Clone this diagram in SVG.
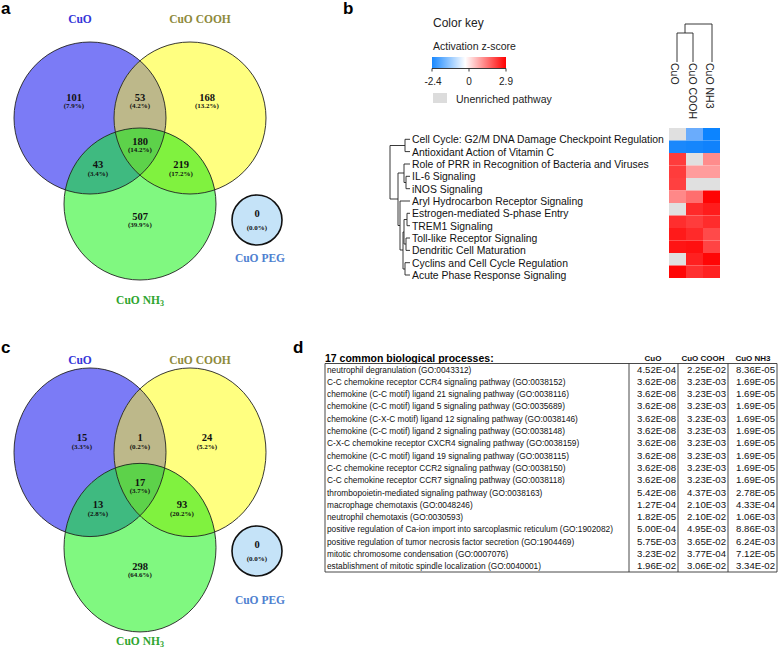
<svg xmlns="http://www.w3.org/2000/svg" width="778" height="648" viewBox="0 0 778 648">
<style>
.pl{font-family:"Liberation Sans",Arial,sans-serif;font-weight:bold;font-size:17px;fill:#000}
.vn{font-family:"Liberation Serif","Times New Roman",serif;font-weight:bold;font-size:10.5px;fill:#111;text-anchor:middle}
.vp{font-family:"Liberation Serif","Times New Roman",serif;font-weight:bold;font-size:7px;fill:#111;text-anchor:middle}
.vl{font-family:"Liberation Serif","Times New Roman",serif;font-weight:bold;font-size:11.5px;text-anchor:middle}
.ol{fill:none;stroke:#222;stroke-width:0.9;vector-effect:non-scaling-stroke}
.bt{font-family:"Liberation Sans",Arial,sans-serif;font-size:10.5px;fill:#222}
.bk{font-family:"Liberation Sans",Arial,sans-serif;font-size:12px;fill:#222}
.bn{font-family:"Liberation Sans",Arial,sans-serif;font-size:10px;fill:#222;text-anchor:middle}
.rl{font-family:"Liberation Sans",Arial,sans-serif;font-size:10.4px;fill:#111}
.dg{fill:none;stroke:#222;stroke-width:0.9}
.tt{font-family:"Liberation Sans",Arial,sans-serif;font-weight:bold;font-size:10.5px;fill:#000}
.tr{font-family:"Liberation Sans",Arial,sans-serif;font-size:8.3px;fill:#111}
.tv{font-family:"Liberation Sans",Arial,sans-serif;font-size:9.6px;fill:#111;text-anchor:end}
.th{font-family:"Liberation Sans",Arial,sans-serif;font-size:8px;font-weight:bold;fill:#111;text-anchor:middle}
.tl{stroke:#333;stroke-width:0.9;fill:none}
</style>
<defs>
<clipPath id="cA" clipPathUnits="userSpaceOnUse"><circle cx="90" cy="118" r="76"/></clipPath>
<clipPath id="cB" clipPathUnits="userSpaceOnUse"><circle cx="190" cy="118" r="76"/></clipPath>
<linearGradient id="gk" x1="0" x2="1" y1="0" y2="0">
<stop offset="0" stop-color="#1888ff"/>
<stop offset="0.45" stop-color="#ffffff"/>
<stop offset="1" stop-color="#ff0000"/>
</linearGradient>
<g id="venn">
<circle cx="90" cy="118" r="76" fill="#7b7bf6"/>
<circle cx="190" cy="118" r="76" fill="#ffff80"/>
<circle cx="140" cy="204" r="76" fill="#80f880"/>
<circle cx="190" cy="118" r="76" fill="#bdb88a" clip-path="url(#cA)"/>
<circle cx="140" cy="204" r="76" fill="#3fba80" clip-path="url(#cA)"/>
<circle cx="140" cy="204" r="76" fill="#80f23f" clip-path="url(#cB)"/>
<g clip-path="url(#cA)"><circle cx="140" cy="204" r="76" fill="#5dd24a" clip-path="url(#cB)"/></g>
<circle class="ol" cx="90" cy="118" r="76"/>
<circle class="ol" cx="190" cy="118" r="76"/>
<circle class="ol" cx="140" cy="204" r="76"/>
</g>
</defs>

<g id="panel-a">
<text class="pl" x="1" y="14">a</text>
<use href="#venn"/>
<circle cx="257" cy="220" r="25" fill="#c5e3f8" stroke="#111" stroke-width="1.6"/>
<text class="vl" x="80" y="23" fill="#3535d8">CuO</text>
<text class="vl" x="200" y="23" fill="#8e8a3c">CuO COOH</text>
<text class="vl" x="140" y="304" fill="#2ea52e">CuO NH<tspan font-size="8" dy="2">3</tspan></text>
<text class="vl" x="260" y="262" fill="#4f7fd0">CuO PEG</text>
<text class="vn" x="74" y="101">101</text><text class="vp" x="74" y="108">(7.9%)</text>
<text class="vn" x="140" y="101">53</text><text class="vp" x="140" y="108">(4.2%)</text>
<text class="vn" x="207" y="101">168</text><text class="vp" x="207" y="108">(13.2%)</text>
<text class="vn" x="140" y="145">180</text><text class="vp" x="140" y="152">(14.2%)</text>
<text class="vn" x="98" y="168">43</text><text class="vp" x="98" y="176">(3.4%)</text>
<text class="vn" x="181" y="168">219</text><text class="vp" x="181" y="176">(17.2%)</text>
<text class="vn" x="140" y="220">507</text><text class="vp" x="140" y="227">(39.9%)</text>
<text class="vn" x="257" y="217">0</text><text class="vp" x="257" y="230">(0.0%)</text>
</g>

<g id="panel-c">
<text class="pl" x="1" y="353">c</text>
<use href="#venn" transform="translate(0,368) scale(1,1.109) translate(0,-42)"/>
<circle cx="257" cy="551" r="25" fill="#c5e3f8" stroke="#111" stroke-width="1.6"/>
<text class="vl" x="80" y="364" fill="#3535d8">CuO</text>
<text class="vl" x="200" y="364" fill="#8e8a3c">CuO COOH</text>
<text class="vl" x="140" y="645" fill="#2ea52e">CuO NH<tspan font-size="8" dy="2">3</tspan></text>
<text class="vl" x="260" y="604" fill="#4f7fd0">CuO PEG</text>
<text class="vn" x="82" y="441">15</text><text class="vp" x="82" y="449">(3.3%)</text>
<text class="vn" x="140" y="441">1</text><text class="vp" x="140" y="449">(0.2%)</text>
<text class="vn" x="207" y="441">24</text><text class="vp" x="207" y="449">(5.2%)</text>
<text class="vn" x="140" y="486">17</text><text class="vp" x="140" y="493">(3.7%)</text>
<text class="vn" x="98" y="508">13</text><text class="vp" x="98" y="516">(2.8%)</text>
<text class="vn" x="182" y="508">93</text><text class="vp" x="182" y="516">(20.2%)</text>
<text class="vn" x="140" y="570">298</text><text class="vp" x="140" y="577">(64.6%)</text>
<text class="vn" x="257" y="548">0</text><text class="vp" x="257" y="561">(0.0%)</text>
</g>

<g id="panel-b">
<text class="pl" x="343" y="14">b</text>
<g id="color-key">
<text class="bk" x="433" y="27">Color key</text>
<text class="bt" x="433" y="50">Activation z-score</text>
<rect x="432" y="57" width="74" height="11" fill="url(#gk)"/>
<path class="dg" d="M432,68.5H506M432,68.5v3M469,68.5v3M506,68.5v3"/>
<text class="bn" x="433" y="85">-2.4</text>
<text class="bn" x="469" y="85">0</text>
<text class="bn" x="506" y="85">2.9</text>
<rect x="433" y="93" width="14" height="10" fill="#dcdcdc"/>
<text class="bt" x="456" y="103">Unenriched pathway</text>
</g>
<g id="col-dendro">
<path class="dg" d="M677,62V33H693V62M685,33V24H712V62"/>
<text class="bt" transform="translate(670.5,63) rotate(90)">CuO</text>
<text class="bt" transform="translate(688.5,63) rotate(90)">CuO COOH</text>
<text class="bt" transform="translate(705.5,63) rotate(90)">CuO NH3</text>
</g>
<g id="heatmap">
<rect x="669" y="128" width="17" height="12.5" fill="#e0e0e0"/><rect x="686" y="128" width="17" height="12.5" fill="#6aacfc"/><rect x="703" y="128" width="17" height="12.5" fill="#0c84ff"/>
<rect x="669" y="140.5" width="17" height="12.5" fill="#1a88fc"/><rect x="686" y="140.5" width="17" height="12.5" fill="#1586fc"/><rect x="703" y="140.5" width="17" height="12.5" fill="#1082fc"/>
<rect x="669" y="153" width="17" height="12.5" fill="#ff3c3c"/><rect x="686" y="153" width="17" height="12.5" fill="#e0e0e0"/><rect x="703" y="153" width="17" height="12.5" fill="#ff8c8c"/>
<rect x="669" y="165.5" width="17" height="12.5" fill="#ff3c3c"/><rect x="686" y="165.5" width="17" height="12.5" fill="#ff9c9c"/><rect x="703" y="165.5" width="17" height="12.5" fill="#ff9c9c"/>
<rect x="669" y="178" width="17" height="12.5" fill="#ff4040"/><rect x="686" y="178" width="17" height="12.5" fill="#e0e0e0"/><rect x="703" y="178" width="17" height="12.5" fill="#e0e0e0"/>
<rect x="669" y="190.5" width="17" height="12.5" fill="#ff8888"/><rect x="686" y="190.5" width="17" height="12.5" fill="#ff6e6e"/><rect x="703" y="190.5" width="17" height="12.5" fill="#ff0404"/>
<rect x="669" y="203" width="17" height="12.5" fill="#e0e0e0"/><rect x="686" y="203" width="17" height="12.5" fill="#ff2a2a"/><rect x="703" y="203" width="17" height="12.5" fill="#ff1c1c"/>
<rect x="669" y="215.5" width="17" height="12.5" fill="#ff2e2e"/><rect x="686" y="215.5" width="17" height="12.5" fill="#ff3c3c"/><rect x="703" y="215.5" width="17" height="12.5" fill="#ff2c2c"/>
<rect x="669" y="228" width="17" height="12.5" fill="#ff1a1a"/><rect x="686" y="228" width="17" height="12.5" fill="#ff2a2a"/><rect x="703" y="228" width="17" height="12.5" fill="#ff4a4a"/>
<rect x="669" y="240.5" width="17" height="12.5" fill="#ff1414"/><rect x="686" y="240.5" width="17" height="12.5" fill="#ff1010"/><rect x="703" y="240.5" width="17" height="12.5" fill="#ff4444"/>
<rect x="669" y="253" width="17" height="12.5" fill="#e0e0e0"/><rect x="686" y="253" width="17" height="12.5" fill="#ff2020"/><rect x="703" y="253" width="17" height="12.5" fill="#ff0606"/>
<rect x="669" y="265.5" width="17" height="12.5" fill="#ff0606"/><rect x="686" y="265.5" width="17" height="12.5" fill="#ff3030"/><rect x="703" y="265.5" width="17" height="12.5" fill="#ff2222"/>
</g>
<g id="row-dendro">
<path class="dg" d="M410,139.3H405V151.6H410M405,145.5H390V199H398"/>
<path class="dg" d="M410,176.3H406V188.7H410M410,164H404V182.5H406M404,173H398V225.5H400"/>
<path class="dg" d="M410,213.3H407V225.7H410M410,238H406V250.4H410M410,262.7H405V275H410"/>
<path class="dg" d="M407,219.5H404V244H406M404,232H403V269H405M403,250H400V201H410"/>
</g>
<g id="row-labels">
<text class="rl" x="412" y="143.3">Cell Cycle: G2/M DNA Damage Checkpoint Regulation</text>
<text class="rl" x="412" y="155.6">Antioxidant Action of Vitamin C</text>
<text class="rl" x="412" y="168">Role of PRR in Recognition of Bacteria and Viruses</text>
<text class="rl" x="412" y="180.3">IL-6 Signaling</text>
<text class="rl" x="412" y="192.7">iNOS Signaling</text>
<text class="rl" x="412" y="205">Aryl Hydrocarbon Receptor Signaling</text>
<text class="rl" x="412" y="217.3">Estrogen-mediated S-phase Entry</text>
<text class="rl" x="412" y="229.7">TREM1 Signaling</text>
<text class="rl" x="412" y="242">Toll-like Receptor Signaling</text>
<text class="rl" x="412" y="254.4">Dendritic Cell Maturation</text>
<text class="rl" x="412" y="266.7">Cyclins and Cell Cycle Regulation</text>
<text class="rl" x="412" y="279">Acute Phase Response Signaling</text>
</g>
</g>

<g id="panel-d">
<text class="pl" x="293" y="353">d</text>
<text class="tt" x="325" y="362">17 common biological processes:</text>
<text class="th" x="653" y="361">CuO</text>
<text class="th" x="703" y="361">CuO COOH</text>
<text class="th" x="753" y="361">CuO NH3</text>
<path class="tl" d="M325,363.5H777V572H325ZM629,363.5V572M678,363.5V572M728,363.5V572"/>
<g id="table-rows">
<text class="tr" x="327" y="372.5">neutrophil degranulation (GO:0043312)</text>
<text class="tr" x="327" y="384.8">C-C chemokine receptor CCR4 signaling pathway (GO:0038152)</text>
<text class="tr" x="327" y="397.1">chemokine (C-C motif) ligand 21 signaling pathway (GO:0038116)</text>
<text class="tr" x="327" y="409.4">chemokine (C-C motif) ligand 5 signaling pathway (GO:0035689)</text>
<text class="tr" x="327" y="421.7">chemokine (C-X-C motif) ligand 12 signaling pathway (GO:0038146)</text>
<text class="tr" x="327" y="434">chemokine (C-C motif) ligand 2 signaling pathway (GO:0038148)</text>
<text class="tr" x="327" y="446.3">C-X-C chemokine receptor CXCR4 signaling pathway (GO:0038159)</text>
<text class="tr" x="327" y="458.6">chemokine (C-C motif) ligand 19 signaling pathway (GO:0038115)</text>
<text class="tr" x="327" y="470.9">C-C chemokine receptor CCR2 signaling pathway (GO:0038150)</text>
<text class="tr" x="327" y="483.2">C-C chemokine receptor CCR7 signaling pathway (GO:0038118)</text>
<text class="tr" x="327" y="495.5">thrombopoietin-mediated signaling pathway (GO:0038163)</text>
<text class="tr" x="327" y="507.8">macrophage chemotaxis (GO:0048246)</text>
<text class="tr" x="327" y="520.1">neutrophil chemotaxis (GO:0030593)</text>
<text class="tr" x="327" y="532.4">positive regulation of Ca-ion import into sarcoplasmic reticulum (GO:1902082)</text>
<text class="tr" x="327" y="544.7">positive regulation of tumor necrosis factor secretion (GO:1904469)</text>
<text class="tr" x="327" y="557">mitotic chromosome condensation (GO:0007076)</text>
<text class="tr" x="327" y="569.3">establishment of mitotic spindle localization (GO:0040001)</text>
</g>
<g id="table-values">
<text class="tv" x="676" y="372.5">4.52E-04</text><text class="tv" x="726" y="372.5">2.25E-02</text><text class="tv" x="775" y="372.5">8.36E-05</text>
<text class="tv" x="676" y="384.8">3.62E-08</text><text class="tv" x="726" y="384.8">3.23E-03</text><text class="tv" x="775" y="384.8">1.69E-05</text>
<text class="tv" x="676" y="397.1">3.62E-08</text><text class="tv" x="726" y="397.1">3.23E-03</text><text class="tv" x="775" y="397.1">1.69E-05</text>
<text class="tv" x="676" y="409.4">3.62E-08</text><text class="tv" x="726" y="409.4">3.23E-03</text><text class="tv" x="775" y="409.4">1.69E-05</text>
<text class="tv" x="676" y="421.7">3.62E-08</text><text class="tv" x="726" y="421.7">3.23E-03</text><text class="tv" x="775" y="421.7">1.69E-05</text>
<text class="tv" x="676" y="434">3.62E-08</text><text class="tv" x="726" y="434">3.23E-03</text><text class="tv" x="775" y="434">1.69E-05</text>
<text class="tv" x="676" y="446.3">3.62E-08</text><text class="tv" x="726" y="446.3">3.23E-03</text><text class="tv" x="775" y="446.3">1.69E-05</text>
<text class="tv" x="676" y="458.6">3.62E-08</text><text class="tv" x="726" y="458.6">3.23E-03</text><text class="tv" x="775" y="458.6">1.69E-05</text>
<text class="tv" x="676" y="470.9">3.62E-08</text><text class="tv" x="726" y="470.9">3.23E-03</text><text class="tv" x="775" y="470.9">1.69E-05</text>
<text class="tv" x="676" y="483.2">3.62E-08</text><text class="tv" x="726" y="483.2">3.23E-03</text><text class="tv" x="775" y="483.2">1.69E-05</text>
<text class="tv" x="676" y="495.5">5.42E-08</text><text class="tv" x="726" y="495.5">4.37E-03</text><text class="tv" x="775" y="495.5">2.78E-05</text>
<text class="tv" x="676" y="507.8">1.27E-04</text><text class="tv" x="726" y="507.8">2.10E-03</text><text class="tv" x="775" y="507.8">4.33E-04</text>
<text class="tv" x="676" y="520.1">1.82E-05</text><text class="tv" x="726" y="520.1">2.10E-02</text><text class="tv" x="775" y="520.1">1.06E-03</text>
<text class="tv" x="676" y="532.4">5.00E-04</text><text class="tv" x="726" y="532.4">4.95E-03</text><text class="tv" x="775" y="532.4">8.86E-03</text>
<text class="tv" x="676" y="544.7">5.75E-03</text><text class="tv" x="726" y="544.7">3.65E-02</text><text class="tv" x="775" y="544.7">6.24E-03</text>
<text class="tv" x="676" y="557">3.23E-02</text><text class="tv" x="726" y="557">3.77E-04</text><text class="tv" x="775" y="557">7.12E-05</text>
<text class="tv" x="676" y="569.3">1.96E-02</text><text class="tv" x="726" y="569.3">3.06E-02</text><text class="tv" x="775" y="569.3">3.34E-02</text>
</g>
</g>
</svg>
